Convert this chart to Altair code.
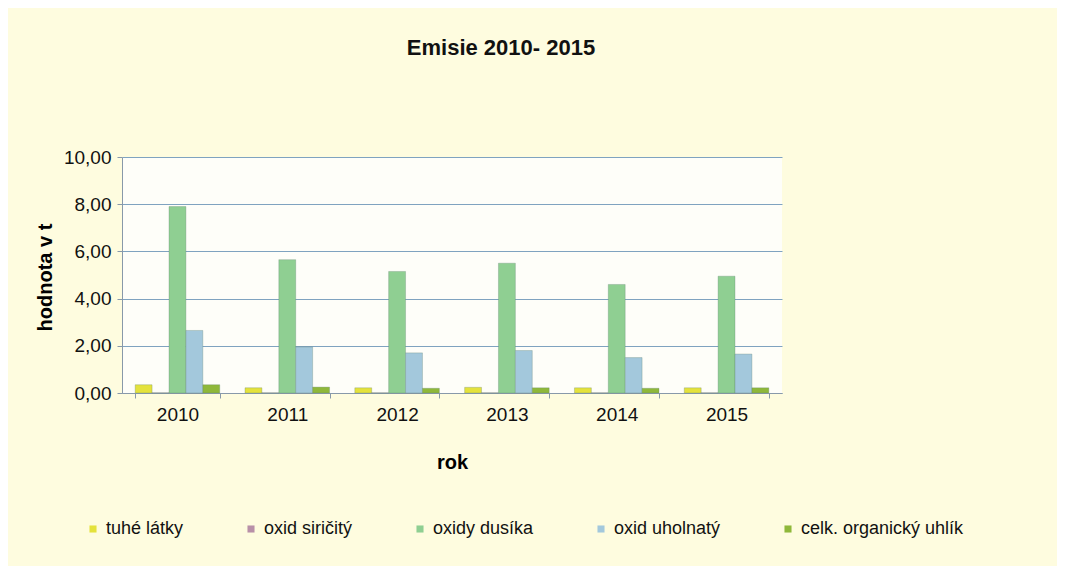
import altair as alt
import pandas as pd

years = ["2010", "2011", "2012", "2013", "2014", "2015"]
series = ["tuhé látky", "oxid siričitý", "oxidy dusíka", "oxid uholnatý", "celk. organický uhlík"]
tuhe_latky = [0.35, 0.22, 0.22, 0.24, 0.22, 0.22]
oxid_siricity = [0.01, 0.01, 0.01, 0.01, 0.01, 0.01]
oxidy_dusika = [7.9, 5.65, 5.15, 5.5, 4.6, 4.95]
oxid_uholnaty = [2.65, 1.95, 1.7, 1.8, 1.5, 1.65]
celk_org_uhlik = [0.35, 0.25, 0.2, 0.22, 0.2, 0.22]
colors = ["#e4e23c", "#b890a8", "#8fcf92", "#a3c8dc", "#8fb83a"]

vals = [tuhe_latky, oxid_siricity, oxidy_dusika, oxid_uholnaty, celk_org_uhlik]
rows = []
for s, v in zip(series, vals):
    for y, x in zip(years, v):
        rows.append({"rok": y, "séria": s, "hodnota": x})
df = pd.DataFrame(rows)

font = "Liberation Sans"

chart = alt.Chart(df).mark_bar(stroke="#5f7f6f", strokeWidth=0.5, strokeOpacity=0.6).encode(
    x=alt.X("rok:N", sort=years, title="rok",
            scale=alt.Scale(paddingInner=0.23, paddingOuter=0.12),
            axis=alt.Axis(labelAngle=0, tickBand="extent", labelFontSize=19, labelFont=font,
                          labelColor="#111", domainColor="#8899aa", tickColor="#8899aa",
                          titleFontSize=20, titleFont=font, titleFontWeight="bold",
                          titleY=69, titleBaseline="middle", labelPadding=7)),
    xOffset=alt.XOffset("séria:N", sort=series),
    y=alt.Y("hodnota:Q", title="hodnota v t",
            scale=alt.Scale(domain=[0, 10]),
            axis=alt.Axis(values=[0, 2, 4, 6, 8, 10],
                          labelExpr="replace(format(datum.value, '.2f'), '.', ',')",
                          labelFontSize=19, labelFont=font, labelColor="#111", labelPadding=6,
                          gridColor="#7fa3c0", gridWidth=1.2, domainColor="#8899aa",
                          tickColor="#8899aa", titleFontSize=20, titleFont=font,
                          titleFontWeight="bold", titleX=-77, titleY=120,
                          titleAngle=270, titleAlign="center", titleBaseline="middle")),
    color=alt.Color("séria:N", sort=series,
                    scale=alt.Scale(domain=series, range=colors),
                    legend=alt.Legend(title=None, orient="none", direction="horizontal",
                                      legendX=-38, legendY=363, columns=5, columnPadding=58,
                                      symbolType="square", symbolSize=50, labelFontSize=18,
                                      labelOffset=4, labelLimit=400,
                                      labelFont=font, labelColor="#111", symbolStrokeWidth=0)),
).properties(
    width=660, height=236,
    title=alt.TitleParams("Emisie 2010- 2015", fontSize=22, font=font, fontWeight="bold",
                          anchor="middle", dx=49, offset=88, color="#111"),
    padding={"left": 114, "top": 149, "right": 275, "bottom": 173},
    autosize=alt.AutoSizeParams(type="none"),
).configure(background="#fefcdf").configure_view(fill="#fefef9", stroke=None)

chart.save("out.html", embed_options={"renderer": "svg", "actions": False})
